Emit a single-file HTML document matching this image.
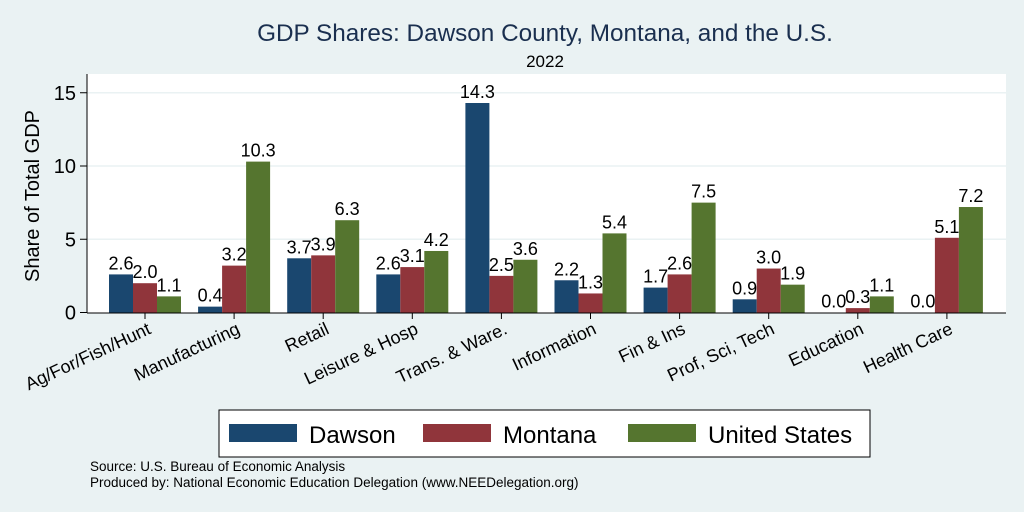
<!DOCTYPE html>
<html><head><meta charset="utf-8"><style>
body{margin:0;background:#eaf2f3;}
svg{display:block;font-family:"Liberation Sans",Arial,sans-serif;}
</style></head><body>
<svg width="1024" height="512">
<rect x="0" y="0" width="1024" height="512" fill="#eaf2f3"/>
<rect x="87" y="74" width="919" height="239" fill="#fff"/>
<text x="545" y="41" font-size="24.3" fill="#1a2f4f" text-anchor="middle">GDP Shares: Dawson County, Montana, and the U.S.</text>
<text x="545" y="67" font-size="17" fill="#000" text-anchor="middle">2022</text>
<text transform="translate(39,196) rotate(-90)" font-size="20" text-anchor="middle">Share of Total GDP</text>
<g id="grid"></g><g id="bars"></g><g id="labels"></g>
<line x1="87" y1="74" x2="87" y2="313" stroke="#000" stroke-width="1"/>
<line x1="87" y1="313" x2="1006" y2="313" stroke="#000" stroke-width="1"/>
<g>
<rect x="219" y="410" width="651" height="47" fill="#fff" stroke="#000" stroke-width="1"/>
<rect x="229" y="424" width="68" height="18" fill="#1a476f"/>
<text x="309" y="443" font-size="24">Dawson</text>
<rect x="423" y="424" width="68" height="18" fill="#90353b"/>
<text x="503" y="443" font-size="24">Montana</text>
<rect x="628" y="424" width="68" height="18" fill="#55752f"/>
<text x="708" y="443" font-size="24">United States</text>
</g>
<text x="90" y="471" font-size="13.5">Source: U.S. Bureau of Economic Analysis</text>
<text x="90" y="487" font-size="13.5">Produced by: National Economic Education Delegation (www.NEEDelegation.org)</text>
</svg>
<script>
const categories=["Ag/For/Fish/Hunt","Manufacturing","Retail","Leisure & Hosp","Trans. & Ware.","Information","Fin & Ins","Prof, Sci, Tech","Education","Health Care"];
const dawson=[2.6,0.4,3.7,2.6,14.3,2.2,1.7,0.9,0.0,0.0];
const montana=[2.0,3.2,3.9,3.1,2.5,1.3,2.6,3.0,0.3,5.1];
const us=[1.1,10.3,6.3,4.2,3.6,5.4,7.5,1.9,1.1,7.2];
const yTicks=[0,5,10,15];
const NS="http://www.w3.org/2000/svg";
const y=v=>312.5-v*14.65;
const xc=i=>145+i*89.1;
function mk(t,a,p){const e=document.createElementNS(NS,t);for(const k in a)e.setAttribute(k,a[k]);p.appendChild(e);return e;}
const grid=document.getElementById('grid'),bars=document.getElementById('bars'),labels=document.getElementById('labels');
yTicks.forEach(t=>{
 if(t>0){const g=mk('line',{x1:87,x2:1006,y1:y(t),y2:y(t),stroke:'#eaf2f3','stroke-width':1.5},grid);
 
 }
 const tk=mk('line',{x1:80,x2:87,y1:y(t),y2:y(t),stroke:'#000'},grid);
 
 
 const tl=mk('text',{x:76,y:y(t)+7,'font-size':20,'text-anchor':'end'},grid);tl.textContent=t;
 
 
});
const series=[[dawson,'#1a476f','dawson'],[montana,'#90353b','montana'],[us,'#55752f','us']];
categories.forEach((c,i)=>{
 series.forEach((s,j)=>{
  const v=s[0][i];const x0=xc(i)-36+j*24;
  const r=mk('rect',{x:x0,y:y(v),width:24,height:312.5-y(v),fill:s[1]},bars);
  
  
  const t=mk('text',{x:x0+12,y:y(v)-5,'font-size':18,'text-anchor':'middle'},labels);t.textContent=v.toFixed(1);
  
  
 });
 const tk=mk('line',{x1:xc(i),x2:xc(i),y1:313,y2:319,stroke:'#000'},labels);
 
 
 const cl=mk('text',{transform:`translate(${xc(i)+7},${333}) rotate(-25)`,'font-size':18,'text-anchor':'end'},labels);cl.textContent=c;
 
 
});
</script>
</body></html>
